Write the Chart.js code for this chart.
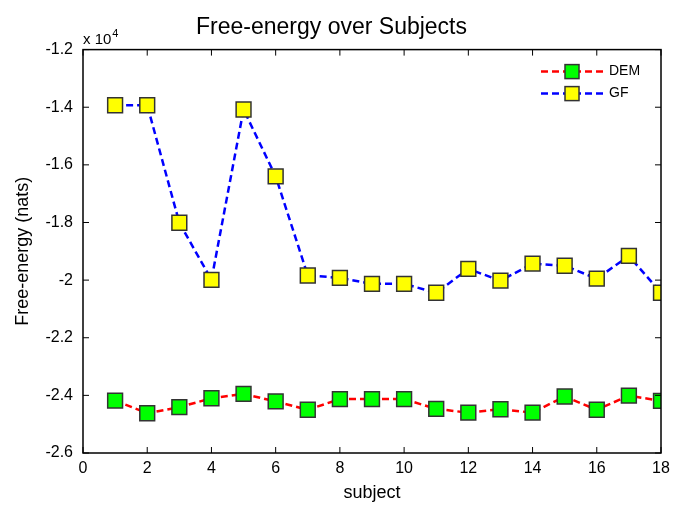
<!DOCTYPE html>
<html>
<head>
<meta charset="utf-8">
<script src="https://cdn.jsdelivr.net/npm/chart.js@4.4.1/dist/chart.umd.min.js"></script>
<style>
  html, body { margin: 0; padding: 0; background: #fff; }
  #wrap { width: 673px; height: 506px; }
</style>
</head>
<body>
<div id="wrap"><canvas id="fe"></canvas></div>
<script>
// subjects 1..18, free energy in nats
var subjects = [1, 2, 3, 4, 5, 6, 7, 8, 9, 10, 11, 12, 13, 14, 15, 16, 17, 18];
var demValues = [-24180, -24620, -24410, -24100, -23950, -24210, -24500, -24130, -24130,
                 -24130, -24470, -24600, -24480, -24600, -24040, -24500, -24010, -24190];
var gfValues = [-13930, -13930, -18010, -19990, -14080, -16400, -19840, -19920, -20130,
                -20130, -20440, -19610, -20020, -19430, -19500, -19950, -19160, -20440];
var seriesNames = ['DEM', 'GF'];
var xTicks = [0, 2, 4, 6, 8, 10, 12, 14, 16, 18];
var yTicks = [-26000, -24000, -22000, -20000, -18000, -16000, -14000, -12000];

var FONT = '"Liberation Sans", Arial, Helvetica, sans-serif';

function toPoints(vals) {
    return subjects.map(function (s, i) { return { x: s, y: vals[i] }; });
}

// box, inward ticks, exponent label and MATLAB-ish legend
var matlabFrame = {
    id: 'matlabFrame',
    afterDatasetsDraw: function (chart) {
        var ctx = chart.ctx;
        var a = chart.chartArea;
        var xs = chart.scales.x, ys = chart.scales.y;
        ctx.save();
        ctx.strokeStyle = '#000';
        ctx.lineWidth = 1.5;
        ctx.strokeRect(a.left, a.top, a.right - a.left, a.bottom - a.top);
        ctx.lineWidth = 1;
        ctx.beginPath();
        xTicks.forEach(function (t) {
            var px = xs.getPixelForValue(t);
            ctx.moveTo(px, a.bottom); ctx.lineTo(px, a.bottom - 6);
            ctx.moveTo(px, a.top); ctx.lineTo(px, a.top + 6);
        });
        yTicks.forEach(function (t) {
            var py = ys.getPixelForValue(t);
            ctx.moveTo(a.left, py); ctx.lineTo(a.left + 6, py);
            ctx.moveTo(a.right, py); ctx.lineTo(a.right - 6, py);
        });
        ctx.stroke();

        // x 10^4
        ctx.fillStyle = '#000';
        ctx.textBaseline = 'alphabetic';
        ctx.textAlign = 'left';
        ctx.font = '15px ' + FONT;
        ctx.fillText('x 10', a.left, a.top - 6);
        var w = ctx.measureText('x 10').width;
        ctx.font = '11px ' + FONT;
        ctx.fillText('4', a.left + w + 1, a.top - 13);

        // legend
        chart.data.datasets.forEach(function (ds, i) {
            var y = a.top + 22 + i * 22;
            var x0 = a.right - 120, x1 = a.right - 58;
            ctx.strokeStyle = ds.borderColor;
            ctx.lineWidth = ds.borderWidth;
            ctx.setLineDash(ds.borderDash);
            ctx.beginPath();
            ctx.moveTo(x0, y); ctx.lineTo(x1, y);
            ctx.stroke();
            ctx.setLineDash([]);
            var s = 14;
            ctx.fillStyle = ds.pointBackgroundColor;
            ctx.strokeStyle = ds.pointBorderColor;
            ctx.lineWidth = ds.pointBorderWidth;
            ctx.fillRect((x0 + x1) / 2 - s / 2, y - s / 2, s, s);
            ctx.strokeRect((x0 + x1) / 2 - s / 2, y - s / 2, s, s);
            ctx.fillStyle = '#000';
            ctx.font = '14px ' + FONT;
            ctx.textBaseline = 'middle';
            ctx.fillText(ds.label, x1 + 6, y);
        });
        ctx.restore();
    }
};

var ctx = document.getElementById('fe').getContext('2d');
var chart = new Chart(ctx, {
    type: 'line',
    data: {
        datasets: [
            {
                label: seriesNames[0],
                data: toPoints(demValues),
                borderColor: '#ff0000',
                borderWidth: 2.5,
                borderDash: [7, 4],
                pointStyle: 'rect',
                pointRadius: 10.5,
                pointBackgroundColor: '#00ff00',
                pointBorderColor: '#333333',
                pointBorderWidth: 1.5
            },
            {
                label: seriesNames[1],
                data: toPoints(gfValues),
                borderColor: '#0000ff',
                borderWidth: 2.5,
                borderDash: [7, 4],
                pointStyle: 'rect',
                pointRadius: 10.5,
                pointBackgroundColor: '#ffff00',
                pointBorderColor: '#333333',
                pointBorderWidth: 1.5
            }
        ]
    },
    options: {
        responsive: true,
        maintainAspectRatio: false,
        animation: false,
        layout: { padding: { left: 0, right: 10, top: 0, bottom: 0 } },
        plugins: {
            legend: { display: false },
            tooltip: { enabled: false },
            title: {
                display: true,
                text: 'Free-energy over Subjects',
                color: '#000',
                font: { family: FONT, size: 23, weight: 'normal' },
                padding: { top: 14, bottom: 8 }
            }
        },
        scales: {
            x: {
                type: 'linear',
                min: 0,
                max: 18,
                afterFit: function (s) { s.height = 53; s.paddingLeft = 0; s.paddingRight = 0; },
                afterBuildTicks: function (s) { s.ticks = xTicks.map(function (v) { return { value: v }; }); },
                grid: { display: false, drawTicks: false },
                border: { display: false },
                ticks: { color: '#000', padding: 6, maxRotation: 0, font: { family: FONT, size: 16 } },
                title: {
                    display: true, text: 'subject', color: '#000',
                    font: { family: FONT, size: 18 }, padding: { top: 0, bottom: 2 }
                }
            },
            y: {
                type: 'linear',
                min: -26000,
                max: -12000,
                afterFit: function (s) { s.width = 83; },
                afterBuildTicks: function (s) { s.ticks = yTicks.map(function (v) { return { value: v }; }); },
                grid: { display: false, drawTicks: false },
                border: { display: false },
                ticks: {
                    color: '#000', padding: 10, font: { family: FONT, size: 16 },
                    callback: function (v) { return String(parseFloat((v / 1e4).toFixed(1))); }
                },
                title: {
                    display: true, text: 'Free-energy (nats)', color: '#000',
                    font: { family: FONT, size: 18 }, padding: { top: 12, bottom: 0 }
                }
            }
        }
    },
    plugins: [matlabFrame]
});
</script>
</body>
</html>
